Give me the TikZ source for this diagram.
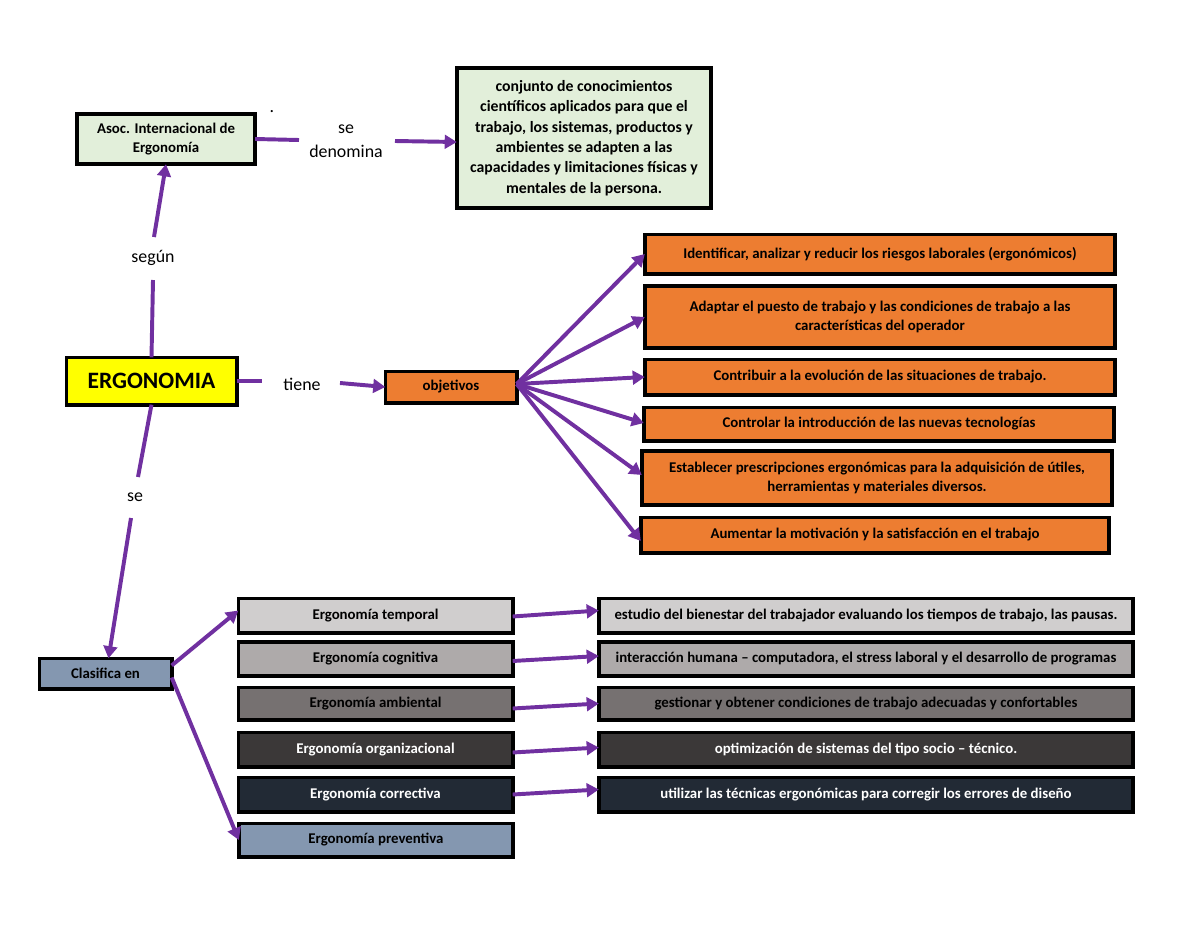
\documentclass[tikz,border=0pt]{standalone}
\usepackage{fontspec}
\setmainfont{Carlito}
\usetikzlibrary{arrows.meta,calc}
\definecolor{purp}{HTML}{7030A0}
\definecolor{lgreen}{HTML}{E2EFDA}
\definecolor{yell}{HTML}{FFFF00}
\definecolor{orng}{HTML}{ED7D31}
\definecolor{bgray}{HTML}{8497B0}
\definecolor{gA}{HTML}{D0CECE}
\definecolor{gB}{HTML}{AEAAAA}
\definecolor{gC}{HTML}{767171}
\definecolor{gD}{HTML}{3B3838}
\definecolor{gE}{HTML}{222A35}
\begin{document}
\begin{tikzpicture}[x=0.66pt,y=-0.66pt,
  box/.style={draw=black, line width=2.4pt, inner sep=2pt, outer sep=0pt, align=center,
    font=\fontsize{9.8}{12.4}\selectfont\bfseries},
  sz/.style 2 args={minimum width=#1*0.66pt-2.4pt, minimum height=#2*0.66pt-2.4pt},
  lbl/.style={font=\fontsize{11.8}{16}\selectfont, inner sep=1pt, align=center},
  ln/.style={draw=purp, line width=2.6pt},
  arr/.style={draw=purp, line width=2.6pt, -{Triangle[length=8pt,width=9pt]}}]
\useasboundingbox[fill=white] (0,0) rectangle (1200,927);

% top
\node[box, fill=lgreen, sz={182}{54}] (asoc) at (166,139) {Asoc. Internacional de\\Ergonomía};
\node[box, fill=lgreen, sz={258}{144}, font=\fontsize{10.4}{13.5}\selectfont\bfseries] (def) at (584,138)
  {conjunto de conocimientos\\científicos aplicados para que el\\trabajo, los sistemas, productos y\\ambientes se adapten a las\\capacidades y limitaciones físicas y\\mentales de la persona.};
\node[lbl] (dot) at (272,112) {.};
\node[lbl] (sedenom) at (346,141) {se\\denomina};
\coordinate (c1) at (299,140);
\coordinate (c2) at (395,141);
\draw[ln] (asoc.east) -- (c1);
\draw[arr] (c2) -- ($(def.west)+(0,4)$);

% ergonomia
\node[box, fill=yell, sz={174}{51}, font=\fontsize{15.5}{18}\selectfont\bfseries] (ergo) at (151.5,381) {ERGONOMIA};
\node[lbl] (segun) at (153,258) {según};
\coordinate (c3) at (153,280);
\coordinate (c4) at (154,237);
\draw[ln] (ergo.north) -- (c3);
\draw[arr] (c4) -- (asoc.south);

\node[lbl] (tiene) at (302,384) {tiene};
\node[box, fill=orng, sz={135}{35}] (obj) at (451,387) {objetivos};
\coordinate (c5) at (262,381);
\coordinate (c6) at (340,383);
\draw[ln] (ergo.east) -- (c5);
\draw[arr] (c6) -- (obj.west);

% objectives
\node[box, fill=orng, sz={474}{43}] (o1) at (880,254) {Identificar, analizar y reducir los riesgos laborales (ergonómicos)};
\node[box, fill=orng, sz={474}{66}] (o2) at (880,317) {Adaptar el puesto de trabajo y las condiciones de trabajo a las\\características del operador};
\node[box, fill=orng, sz={474}{39}] (o3) at (880,377) {Contribuir a la evolución de las situaciones de trabajo.};
\node[box, fill=orng, sz={474}{37}] (o4) at (879,424) {Controlar la introducción de las nuevas tecnologías};
\node[box, fill=orng, sz={474}{58}] (o5) at (877,478) {Establecer prescripciones ergonómicas para la adquisición de útiles,\\herramientas y materiales diversos.};
\node[box, fill=orng, sz={472}{39}] (o6) at (875,535) {Aumentar la motivación y la satisfacción en el trabajo};
\coordinate (oc) at ($(obj.east)+(0,-3)$);
\draw[arr] (oc) -- (o1.west);
\draw[arr] (oc) -- (o2.west);
\draw[arr] (oc) -- (o3.west);
\draw[arr] (oc) -- ($(o4.west)+(0,-1)$);
\draw[arr] (oc) -- ($(o5.west)+(0,-3)$);
\draw[arr] (oc) -- ($(o6.west)+(0,6)$);

% classification
\node[lbl] (se) at (135,497) {se};
\node[box, fill=bgray, sz={136}{34}] (clas) at (105.5,673.5) {Clasifica en};
\coordinate (c7) at (138,477);
\coordinate (c8) at (131,518);
\draw[ln] (ergo.south) -- (c7);
\draw[arr] (c8) -- ($(clas.north)+(3,0)$);

\node[box, fill=gA, sz={278}{38}] (l1) at (375.5,615.5) {Ergonomía temporal};
\node[box, fill=gB, sz={278}{38}] (l2) at (375.5,659) {Ergonomía cognitiva};
\node[box, fill=gC, sz={278}{36}] (l3) at (375.5,703.5) {Ergonomía ambiental};
\node[box, fill=gD, sz={278}{38}, text=white] (l4) at (375.5,749.5) {Ergonomía organizacional};
\node[box, fill=gE, sz={278}{38}, text=white] (l5) at (375.5,794.5) {Ergonomía correctiva};
\node[box, fill=bgray, sz={278}{37}] (l6) at (376,840) {Ergonomía preventiva};

\node[box, fill=gA, sz={538}{38}] (r1) at (866,615.5) {estudio del bienestar del trabajador evaluando los tiempos de trabajo, las pausas.};
\node[box, fill=gB, sz={538}{38}] (r2) at (866,659) {interacción humana – computadora, el stress laboral y el desarrollo de programas};
\node[box, fill=gC, sz={538}{36}] (r3) at (866,703.5) {gestionar y obtener condiciones de trabajo adecuadas y confortables};
\node[box, fill=gD, sz={538}{38}, text=white] (r4) at (866,749.5) {optimización de sistemas del tipo socio – técnico.};
\node[box, fill=gE, sz={538}{38}, text=white] (r5) at (866,794.5) {utilizar las técnicas ergonómicas para corregir los errores de diseño};

\draw[arr] ($(clas.east)+(0,-8)$) -- ($(l1.west)+(0,-5)$);
\draw[arr] ($(clas.east)+(0,4)$) -- (l6.west);

\draw[arr] ($(l1.east)+(0,1)$) -- ($(r1.west)+(0,-5)$);
\draw[arr] ($(l2.east)+(0,2)$) -- ($(r2.west)+(0,-3)$);
\draw[arr] ($(l3.east)+(0,5)$) -- ($(r3.west)+(0,0)$);
\draw[arr] ($(l4.east)+(0,3)$) -- ($(r4.west)+(0,-2)$);
\draw[arr] ($(l5.east)+(0,0)$) -- ($(r5.west)+(0,-5)$);
\end{tikzpicture}
\end{document}
